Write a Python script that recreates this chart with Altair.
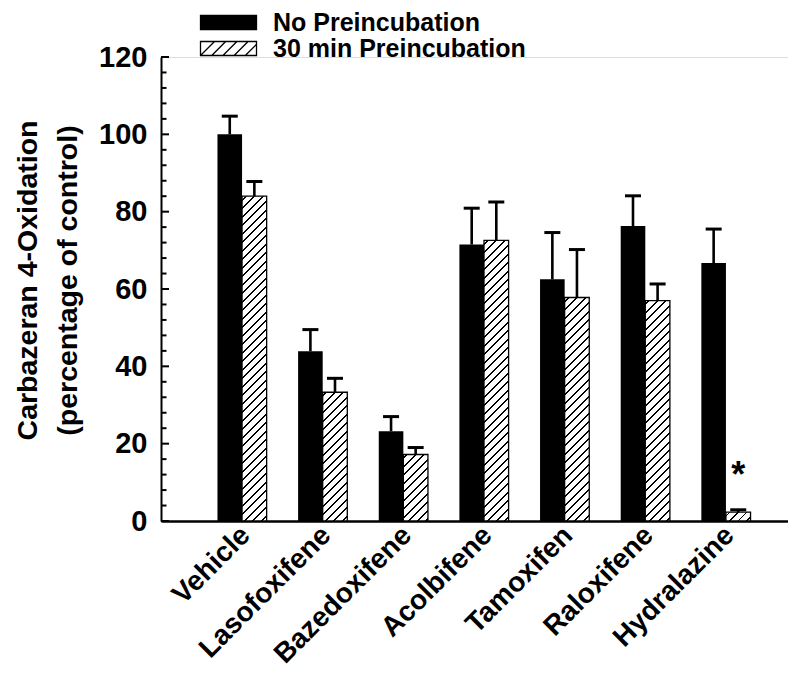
import altair as alt
import pandas as pd

# ---------------- data ----------------
categories = ["Vehicle", "Lasofoxifene", "Bazedoxifene", "Acolbifene",
              "Tamoxifen", "Raloxifene", "Hydralazine"]
series = ["No Preincubation", "30 min Preincubation"]
no_pre = [100.0, 43.9, 23.2, 71.5, 62.5, 76.3, 66.7]
no_pre_err = [4.7, 5.6, 3.8, 9.4, 12.1, 7.8, 8.8]
pre30 = [84.0, 33.3, 17.2, 72.6, 57.8, 57.0, 2.3]
pre30_err = [3.8, 3.6, 1.8, 9.9, 12.4, 4.3, 0.6]
y_tick_labels = [0, 20, 40, 60, 80, 100, 120]
y_minor_ticks = [4, 8, 12, 16, 24, 28, 32, 36, 44, 48, 52, 56, 64, 68, 72, 76,
                 84, 88, 92, 96, 104, 108, 112, 116]
star_drug = ["Hydralazine"]
star_series = ["30 min Preincubation"]
star_text = ["*"]

# ---------------- layout / style ----------------
FONT = "Liberation Sans"
PLOT_W, PLOT_H = 627, 464
X_RANGE = 646
P_IN, P_OUT = 0.39, 0.70
Y_MAX = 120

rows = []
for i, c in enumerate(categories):
    rows.append({"drug": c, "series": series[0], "value": no_pre[i], "top": no_pre[i] + no_pre_err[i]})
    rows.append({"drug": c, "series": series[1], "value": pre30[i], "top": pre30[i] + pre30_err[i]})
df = pd.DataFrame(rows)

star_df = pd.DataFrame({"drug": star_drug, "series": star_series, "label": star_text})
star_df = star_df.merge(df[["drug", "series", "top"]], on=["drug", "series"])

major_df = pd.DataFrame({"v": y_tick_labels})
minor_df = pd.DataFrame({"v": y_minor_ticks})

step = X_RANGE / (len(categories) - P_IN + 2 * P_OUT)
bar_w = step * (1 - P_IN) / 2


def hatch_gradient(w, h, pitch=8.5, lw=1.9, phase=3.0):
    L = w + h
    stops = [{"offset": 0, "color": "white"}]
    s = phase
    while s < L:
        a = s / L
        b = min((s + lw) / L, 1.0)
        stops += [{"offset": a, "color": "white"}, {"offset": a, "color": "black"},
                  {"offset": b, "color": "black"}, {"offset": b, "color": "white"}]
        s += pitch
    stops.append({"offset": 1, "color": "white"})
    den = w * w + h * h
    return {"gradient": "linear", "stops": stops, "x1": 0, "y1": 0,
            "x2": w * L / den, "y2": h * L / den}


x_axis = alt.Axis(title=None, ticks=False, labelAngle=-45, labelFont=FONT,
                  labelFontSize=28, labelFontWeight="bold", labelColor="black",
                  labelPadding=0, labelOffset=-6, domainColor="black", domainWidth=2.5,
                  grid=False, labelOverlap=False, labelLimit=400)
y_axis = alt.Axis(values=y_tick_labels, ticks=False, labelFont=FONT, labelFontSize=29,
                  labelFontWeight="bold", labelColor="black", labelPadding=14,
                  domainColor="black", domainWidth=2, grid=False,
                  title=["Carbazeran 4-Oxidation", "(percentage of control)"],
                  titleFont=FONT, titleFontSize=28.5, titleFontWeight="bold",
                  titleColor="black", titlePadding=16, titleLineHeight=40, titleY=223)

X_SCALE = alt.Scale(domain=categories, range=[0, X_RANGE],
                    paddingInner=P_IN, paddingOuter=P_OUT)
Y_SCALE = alt.Scale(domain=[0, Y_MAX], nice=False, zero=True)


def X():
    return alt.X("drug:N", sort=categories, scale=X_SCALE, axis=x_axis)


def Y(field):
    return alt.Y(field, scale=Y_SCALE, axis=y_axis)


XO = alt.XOffset("series:N", scale=alt.Scale(domain=series))

sym_path = ("M-4,-1H4V1H-4Z"
            "M-4,1L-2,-1M-2.4,1L-0.4,-1M-0.8,1L1.2,-1M0.8,1L2.8,-1M2.4,1L4,-0.6")
legend = alt.Legend(orient="none", legendX=55, legendY=-47, title=None,
                    symbolType=sym_path, symbolSize=196, symbolStrokeColor="black",
                    symbolStrokeWidth=1.3, symbolOpacity=1, labelFont=FONT,
                    labelFontSize=25, labelFontWeight="bold", labelColor="black",
                    labelOffset=32, rowPadding=-1, labelLimit=400)

base = alt.Chart(df)

black_bars = base.transform_filter(alt.datum.series == series[0]).mark_bar().encode(
    x=X(), xOffset=XO, y=Y("value:Q"),
    fill=alt.Fill("series:N", scale=alt.Scale(domain=series, range=["#000000", "#ffffff"]),
                  legend=legend),
)

hatched = []
for i, c in enumerate(categories):
    h = pre30[i] * PLOT_H / Y_MAX
    hatched.append(
        base.transform_filter((alt.datum.series == series[1]) & (alt.datum.drug == c))
        .mark_bar(fill=hatch_gradient(bar_w, h), stroke="black", strokeWidth=1.3)
        .encode(x=X(), xOffset=XO, y=Y("value:Q"))
    )

stems = base.mark_rule(color="black", strokeWidth=2.6).encode(
    x=X(), xOffset=XO, y=Y("value:Q"), y2="top:Q")

caps = base.mark_tick(color="black", size=16, thickness=3, opacity=1).encode(
    x=X(), xOffset=XO, y=Y("top:Q"))

stars = alt.Chart(star_df).mark_text(font=FONT, fontSize=36, fontWeight="bold",
                                     color="black", baseline="alphabetic", dy=-23).encode(
    x=X(), xOffset=XO, y=Y("top:Q"), text="label:N")

major_ticks = alt.Chart(major_df).mark_rule(color="black", strokeWidth=2).encode(
    y=Y("v:Q"), x=alt.value(0), x2=alt.value(8))
minor_ticks = alt.Chart(minor_df).mark_rule(color="black", strokeWidth=2).encode(
    y=Y("v:Q"), x=alt.value(0), x2=alt.value(5.5))

chart = alt.layer(black_bars, *hatched, stems, caps, stars, minor_ticks, major_ticks).properties(
    width=PLOT_W, height=PLOT_H,
    autosize=alt.AutoSizeParams(type="none"),
    padding={"left": 153, "top": 49, "right": 0, "bottom": 150},
).configure_view(stroke=None).configure_axis(grid=False).configure(font=FONT)

chart.save("out.html", embed_options={"renderer": "svg", "actions": False})
